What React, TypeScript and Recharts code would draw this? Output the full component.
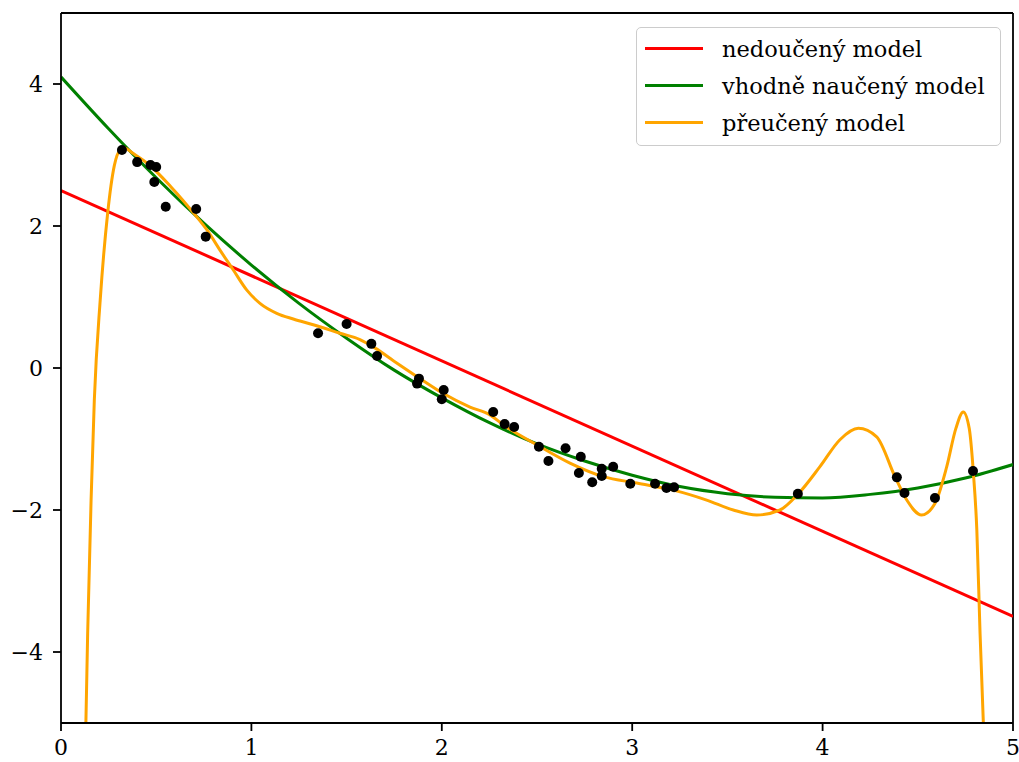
import React from "react";
import { ComposedChart, Line, Scatter, XAxis, YAxis, ReferenceLine } from "recharts";

const pointX = [0.32, 0.40, 0.47, 0.50, 0.49, 0.55, 0.71, 0.76, 1.35, 1.50, 1.63, 1.66, 1.88, 1.87, 2.01, 2.00, 2.27, 2.33, 2.38, 2.51, 2.56, 2.65, 2.73, 2.72, 2.79, 2.84, 2.84, 2.90, 2.99, 3.12, 3.18, 3.22, 3.87, 4.39, 4.43, 4.59, 4.79];
const pointY = [3.07, 2.90, 2.86, 2.83, 2.62, 2.27, 2.24, 1.85, 0.49, 0.62, 0.34, 0.17, -0.15, -0.22, -0.31, -0.44, -0.62, -0.79, -0.83, -1.11, -1.31, -1.13, -1.25, -1.48, -1.61, -1.52, -1.42, -1.39, -1.63, -1.63, -1.69, -1.68, -1.77, -1.54, -1.76, -1.83, -1.45];

const underX = [0, 5];
const underY = [2.5, -3.5];

const goodX = [0, 0.25, 0.5, 0.75, 1.0, 1.25, 1.5, 1.75, 2.0, 2.25, 2.5, 2.75, 3.0, 3.25, 3.5, 3.75, 4.0, 4.25, 4.5, 4.75, 5.0];
const goodY = [4.10, 3.37, 2.68, 2.04, 1.45, 0.91, 0.42, -0.03, -0.42, -0.77, -1.07, -1.31, -1.51, -1.67, -1.77, -1.82, -1.83, -1.78, -1.69, -1.55, -1.36];

const overX = [0.125, 0.131, 0.140, 0.158, 0.175, 0.206, 0.245, 0.28, 0.31, 0.333, 0.38, 0.455, 0.578, 0.70, 0.773, 0.835, 0.905, 0.975, 1.045, 1.133, 1.22, 1.325, 1.465, 1.57, 1.65, 1.763, 1.886, 2.008, 2.148, 2.253, 2.323, 2.498, 2.673, 2.848, 3.024, 3.216, 3.391, 3.531, 3.654, 3.776, 3.873, 3.986, 4.091, 4.188, 4.284, 4.38, 4.442, 4.52, 4.59, 4.652, 4.70, 4.739, 4.77, 4.792, 4.81, 4.827, 4.844, 4.85];
const overY = [-5.6, -4.96, -3.74, -1.86, -0.45, 0.96, 2.18, 2.85, 3.07, 3.10, 3.02, 2.88, 2.55, 2.17, 1.92, 1.66, 1.38, 1.10, 0.91, 0.77, 0.69, 0.61, 0.49, 0.40, 0.28, 0.07, -0.15, -0.36, -0.55, -0.66, -0.80, -1.08, -1.34, -1.53, -1.62, -1.72, -1.86, -2.0, -2.07, -2.0, -1.77, -1.39, -1.01, -0.85, -0.97, -1.53, -1.86, -2.07, -1.91, -1.39, -0.85, -0.62, -0.85, -1.48, -2.28, -3.74, -4.98, -5.5];

const xTicks = [0, 1, 2, 3, 4, 5];
const yTicks = [-4, -2, 0, 2, 4];

const legendItems = [
  { label: "nedoučený model", color: "#ff0000" },
  { label: "vhodně naučený model", color: "#008000" },
  { label: "přeučený model", color: "#ffa500" },
];

const zip = (xs: number[], ys: number[]) => xs.map((x, i) => ({ x, y: ys[i] }));
const points = zip(pointX, pointY);
const under = zip(underX, underY);
const good = zip(goodX, goodY);
const over = zip(overX, overY);

const FONT = "'DejaVu Serif', serif";
const fmt = (v: number) => (v < 0 ? "\u2212" + Math.abs(v) : String(v));

const LegendBox = () => (
  <div
    style={{
      position: "absolute",
      left: 636,
      top: 27,
      width: 365,
      height: 119,
      border: "1.5px solid #cccccc",
      borderRadius: 5,
      background: "rgba(255,255,255,0.8)",
      boxSizing: "border-box",
      fontFamily: FONT,
      fontSize: 22.5,
      color: "#000",
      paddingTop: 2,
    }}
  >
    {legendItems.map((it) => (
      <div key={it.label} style={{ display: "flex", alignItems: "center", height: 37 }}>
        <div style={{ width: 58, height: 3, background: it.color, marginLeft: 8, marginRight: 19 }} />
        <span style={{ lineHeight: "22px", whiteSpace: "nowrap" }}>{it.label}</span>
      </div>
    ))}
  </div>
);

export default function App() {
  return (
    <div style={{ position: "absolute", left: 0, top: 0, width: 1019, height: 762, background: "#fff" }}>
      <ComposedChart width={1019} height={762} margin={{ top: 13, right: 6, bottom: 0, left: 0 }}>
        <XAxis
          dataKey="x"
          type="number"
          domain={[0, 5]}
          ticks={xTicks}
          allowDataOverflow
          height={39}
          axisLine={{ stroke: "#000", strokeWidth: 1.8 }}
          tickLine={{ stroke: "#000", strokeWidth: 1.8 }}
          tickSize={8}
          tick={{ fill: "#000", fontSize: 22, fontFamily: FONT, dy: 6 }}
        />
        <YAxis
          type="number"
          domain={[-5, 5]}
          ticks={yTicks}
          allowDataOverflow
          width={61}
          axisLine={{ stroke: "#000", strokeWidth: 1.8 }}
          tickLine={{ stroke: "#000", strokeWidth: 1.8 }}
          tickSize={8}
          tickFormatter={fmt}
          tick={{ fill: "#000", fontSize: 22, fontFamily: FONT, dx: -8 }}
        />
        <ReferenceLine y={5} stroke="#000" strokeWidth={1.8} ifOverflow="visible" />
        <ReferenceLine x={5} stroke="#000" strokeWidth={1.8} ifOverflow="visible" />
        <Line data={under} dataKey="y" type="linear" stroke="#ff0000" strokeWidth={3} dot={false} isAnimationActive={false} />
        <Line data={good} dataKey="y" type="monotone" stroke="#008000" strokeWidth={3} dot={false} isAnimationActive={false} />
        <Line data={over} dataKey="y" type="monotone" stroke="#ffa500" strokeWidth={3} dot={false} isAnimationActive={false} />
        <Scatter data={points} dataKey="y" fill="#000" shape={(p: any) => <circle cx={p.cx} cy={p.cy} r={5} fill="#000" />} isAnimationActive={false} />
      </ComposedChart>
      <LegendBox />
    </div>
  );
}
